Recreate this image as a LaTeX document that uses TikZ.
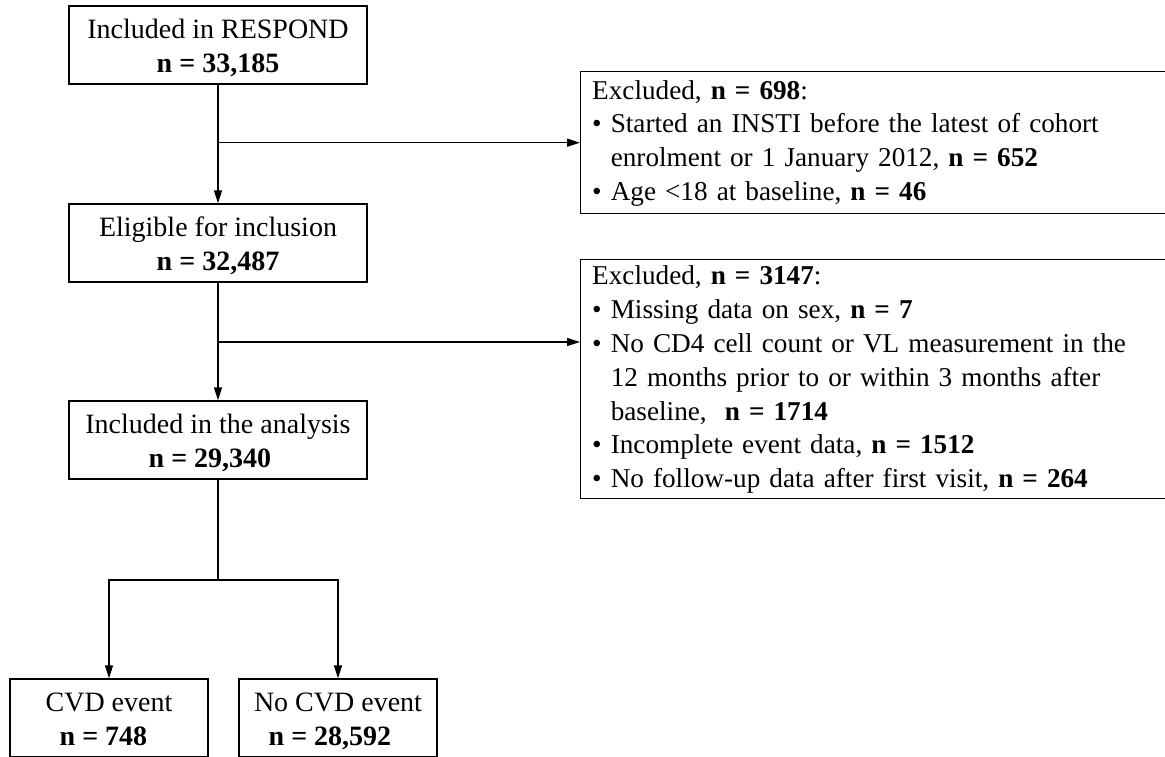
\documentclass[tikz,border=0pt]{standalone}
\usepackage{fontspec}
\setmainfont{Liberation Serif}
\usetikzlibrary{arrows.meta}
\newcommand\myTop{\rule{0pt}{25pt}}
\newcommand\myBot{\rule[-5pt]{0pt}{5pt}}
\newcommand\exTop{\rule{0pt}{20pt}}
\newcommand\exBot{\rule[-2pt]{0pt}{2pt}}
\newcommand\ind{\hphantom{•\ }}
\begin{document}
\begin{tikzpicture}[x=1pt,y=-1pt,
  line width=1.4pt,
  mainbox/.style={draw, line width=1.4pt, minimum width=298pt, minimum height=78pt,
    inner sep=0pt, align=center, font=\fontsize{28pt}{34pt}\selectfont},
  smallbox/.style={mainbox, minimum width=198pt},
  exbox/.style={draw, line width=1.4pt, anchor=north west, text width=597pt,
    minimum width=620pt, inner xsep=11.5pt, inner ysep=0pt, align=left,
    font=\fontsize{27.2pt}{33.8pt}\selectfont},
  arr/.style={-{Triangle[length=13pt,width=8pt]}}]
\useasboundingbox (0,0) rectangle (1165,756);
\clip (0,0) rectangle (1165,756);

\node[mainbox] (b1) at (218,45) {\myTop Included in RESPOND\\\textbf{n = 33,185}\myBot};
\node[mainbox] (b2) at (218,243) {\myTop Eligible for inclusion\\\textbf{n = 32,487}\myBot};
\node[mainbox] (b3) at (218,440) {\myTop Included in the analysis\\\textbf{n = 29,340}\hspace*{16pt}\myBot};
\node[smallbox] (cvd) at (109,718) {\myTop CVD event\\\textbf{n = 748}\hspace*{11pt}\myBot};
\node[smallbox] (nocvd) at (338,718) {\myTop No CVD event\\\textbf{n = 28,592}\hspace*{16pt}\myBot};

\node[exbox, minimum height=142pt] (ex1) at (580,71) {\exTop Excluded, \textbf{n = 698}:\\
• Started an INSTI before the latest of cohort\\
\ind enrolment or 1 January 2012, \textbf{n = 652}\\
• Age <18 at baseline, \textbf{n = 46}\exBot};

\node[exbox, minimum height=239pt] (ex2) at (580,259) {\exTop Excluded, \textbf{n = 3147}:\\
• Missing data on sex, \textbf{n = 7}\\
• No CD4 cell count or VL measurement in the\\
\ind 12 months prior to or within 3 months after\\
\ind baseline,\ \ \textbf{n = 1714}\\
• Incomplete event data, \textbf{n = 1512}\\
• No follow-up data after first visit, \textbf{n = 264}\exBot};

\draw[arr] (b1.south) -- (b2.north);
\coordinate (j1) at (b1.south |- ex1.west);
\draw[arr] (j1) -- (ex1.west);
\draw[arr] (b2.south) -- (b3.north);
\coordinate (j2) at (218,342);
\draw[arr] (j2) -- (j2 -| ex2.west);
\coordinate (j3) at (218,580);
\draw (b3.south) -- (j3);
\draw[arr] (j3) -| (cvd.north);
\draw[arr] (j3) -| (nocvd.north);
\end{tikzpicture}
\end{document}
